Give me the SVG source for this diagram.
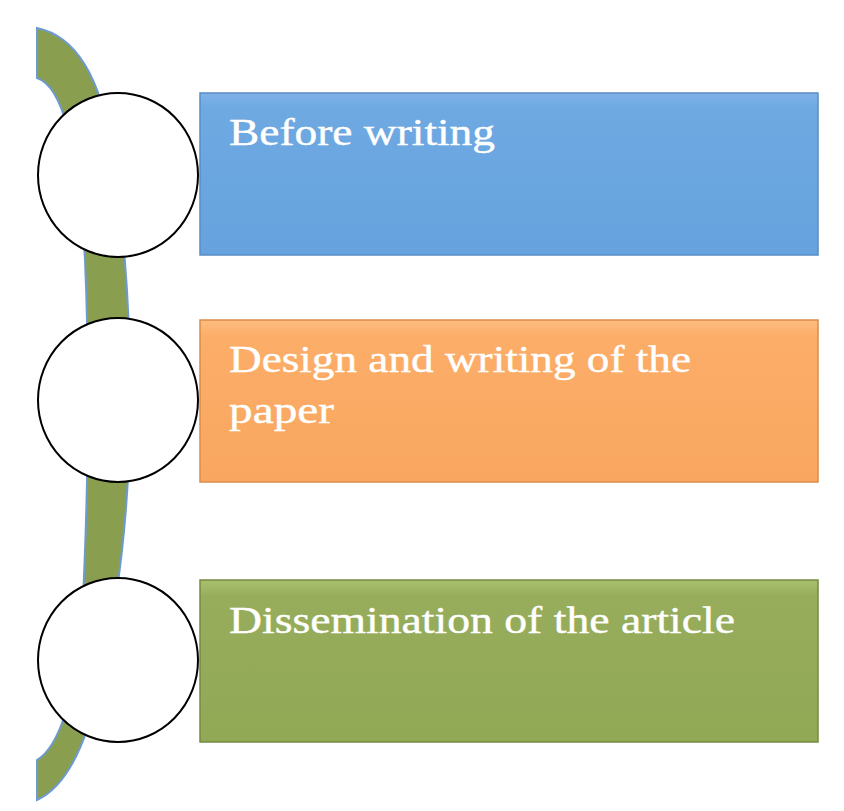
<svg xmlns="http://www.w3.org/2000/svg" width="844" height="811" viewBox="0 0 844 811">
<defs>
<style>
.c{fill:#fff;stroke:#000;stroke-width:2}
.t{font-family:"Liberation Serif",serif;font-size:38px;fill:#fff;stroke:#fff;stroke-width:0.4}
.b{stroke-width:1.5}
</style>
<linearGradient id="gb" x1="0" y1="0" x2="0" y2="1"><stop offset="0" stop-color="#7fb2e8"/><stop offset="0.1" stop-color="#6ea9e2"/><stop offset="1" stop-color="#66a2dd"/></linearGradient>
<linearGradient id="go" x1="0" y1="0" x2="0" y2="1"><stop offset="0" stop-color="#fdbd80"/><stop offset="0.1" stop-color="#fcad68"/><stop offset="1" stop-color="#f9a760"/></linearGradient>
<linearGradient id="gg" x1="0" y1="0" x2="0" y2="1"><stop offset="0" stop-color="#a9c06e"/><stop offset="0.1" stop-color="#97ad5c"/><stop offset="1" stop-color="#91a855"/></linearGradient>
</defs>
<g id="connectors">
<path d="M37,28 Q95,40 112,150 Q132,280 130,420 Q128,560 100,680 Q80,780 37,800 L37,760 Q70,740 82,620 Q92,420 85,260 Q75,90 37,78 Z" fill="#8a9e50" stroke="#6d9bd1" stroke-width="2"/>
</g>
<g id="n1"><rect x="200" y="93" width="618" height="162" fill="url(#gb)" stroke="#5a8cc4" class="b"/><ellipse class="c" cx="118" cy="175" rx="80" ry="82"/><text class="t" x="229" y="145" textLength="266" lengthAdjust="spacingAndGlyphs">Before writing</text></g>
<g id="n2"><rect x="200" y="320" width="618" height="162" fill="url(#go)" stroke="#d98c4a" class="b"/><ellipse class="c" cx="118" cy="400" rx="80" ry="82"/><text class="t" x="229" y="372" textLength="462" lengthAdjust="spacingAndGlyphs">Design and writing of the</text><text class="t" x="229" y="423" textLength="105" lengthAdjust="spacingAndGlyphs">paper</text></g>
<g id="n3"><rect x="200" y="580" width="618" height="162" fill="url(#gg)" stroke="#748a40" class="b"/><ellipse class="c" cx="118" cy="660" rx="80" ry="82"/><text class="t" x="229" y="633" textLength="506" lengthAdjust="spacingAndGlyphs">Dissemination of the article</text></g>
</svg>
